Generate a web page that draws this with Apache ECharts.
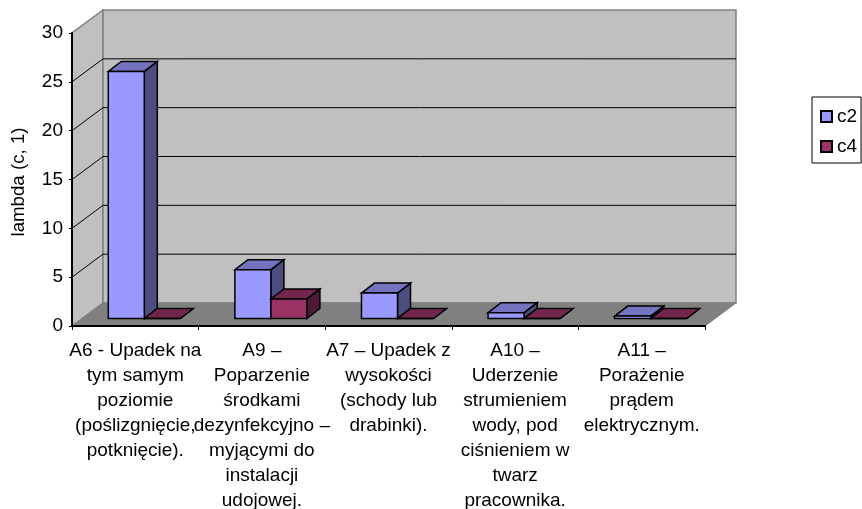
<!DOCTYPE html>
<html>
<head>
<meta charset="utf-8">
<script src="https://cdn.jsdelivr.net/npm/echarts@6/dist/echarts.min.js"></script>
<style>
html,body{margin:0;padding:0;background:#fff}
#chart{width:862px;height:509px}
</style>
</head>
<body>
<div id="chart"></div>
<script>
var categories = [
    'A6 - Upadek na\ntym samym\npoziomie\n(poślizgnięcie,\npotknięcie).',
    'A9 –\nPoparzenie\nśrodkami\ndezynfekcyjno –\nmyjącymi do\ninstalacji\nudojowej.',
    'A7 – Upadek z\nwysokości\n(schody lub\ndrabinki).',
    'A10 –\nUderzenie\nstrumieniem\nwody, pod\nciśnieniem w\ntwarz\npracownika.',
    'A11 –\nPorażenie\nprądem\nelektrycznym.'
];
var c2 = [25.3, 5, 2.6, 0.6, 0.25];
var c4 = [0, 2, 0, 0, 0];
var yTicks = [0, 5, 10, 15, 20, 25, 30];

var wallDx = 31, wallDy = 23;   // full depth of the box
var gapDx = 9, gapDy = 7.5;     // floor in front of the bars
var barDx = 13, barDy = 10;     // depth of one bar
var font = 'Liberation Sans';

function face(points, fill) {
    return {
        type: 'polygon',
        shape: {points: points},
        style: {fill: fill, stroke: '#000', lineWidth: 1.5}
    };
}

function renderWalls(params, api) {
    var o = api.coord([0, 0]);
    var band = api.size([1, 0])[0];
    var x0 = o[0] - band / 2, x1 = x0 + band * 5, y0 = o[1];
    var yTop = api.coord([0, 30])[1];
    var children = [
        {type: 'polygon', shape: {points: [[x0, y0], [x0 + wallDx, y0 - wallDy], [x0 + wallDx, yTop - wallDy], [x0, yTop]]},
            style: {fill: '#c0c0c0', stroke: '#808080', lineWidth: 1.5}},
        {type: 'polygon', shape: {points: [[x0 + wallDx, y0 - wallDy], [x1 + wallDx, y0 - wallDy], [x1 + wallDx, yTop - wallDy], [x0 + wallDx, yTop - wallDy]]},
            style: {fill: '#c0c0c0', stroke: '#808080', lineWidth: 1.5}},
        {type: 'polygon', shape: {points: [[x0, y0], [x1, y0], [x1 + wallDx, y0 - wallDy], [x0 + wallDx, y0 - wallDy]]},
            style: {fill: '#808080', stroke: '#808080', lineWidth: 1}}
    ];
    yTicks.forEach(function (t) {
        if (t === 0 || t === 30) return;
        var y = api.coord([0, t])[1];
        children.push({
            type: 'polyline',
            shape: {points: [[x0, y], [x0 + wallDx, y - wallDy], [x1 + wallDx, y - wallDy]]},
            style: {fill: 'none', stroke: '#000', lineWidth: 1}
        });
    });
    return {type: 'group', children: children};
}

function renderBar(side, colors) {
    return function (params, api) {
        var cat = api.value(0), val = api.value(1);
        var band = api.size([1, 0])[0];
        var w = band * 0.2845;
        var base = api.coord([cat, 0]);
        var top = api.coord([cat, val]);
        var x = base[0] + gapDx + (side === 0 ? -w : 0);
        var yb = base[1] - gapDy, yt = top[1] - gapDy;
        var r = x + w;
        return {
            type: 'group',
            children: [
                face([[r, yb], [r + barDx, yb - barDy], [r + barDx, yt - barDy], [r, yt]], colors[2]),
                face([[x, yt], [r, yt], [r + barDx, yt - barDy], [x + barDx, yt - barDy]], colors[1]),
                face([[x, yb], [r, yb], [r, yt], [x, yt]], colors[0])
            ]
        };
    };
}

var chart = echarts.init(document.getElementById('chart'));
chart.setOption({
    animation: false,
    textStyle: {fontFamily: font},
    grid: {left: 72, top: 33, width: 633, height: 293, outerBoundsMode: 'none'},
    legend: {
        left: 812, top: 97,
        orient: 'vertical',
        icon: 'rect',
        data: ['c2', 'c4'],
        itemWidth: 11, itemHeight: 11, itemGap: 11,
        padding: [10, 4, 7, 8],
        borderColor: '#000', borderWidth: 1,
        textStyle: {fontSize: 19, color: '#000', fontFamily: font},
        selectedMode: false
    },
    xAxis: {
        type: 'category',
        data: categories,
        axisLine: {lineStyle: {color: '#000', width: 2}},
        axisTick: {show: true, length: 4, lineStyle: {color: '#000', width: 1}},
        axisLabel: {interval: 0, fontSize: 19, lineHeight: 25, color: '#000', margin: 12, fontFamily: font, align: 'center', hideOverlap: false},
        z: 5
    },
    yAxis: {
        type: 'value', min: 0, max: 30, interval: 5,
        name: 'lambda (c, 1)',
        nameLocation: 'middle', nameRotate: 90, nameGap: 44,
        nameTextStyle: {fontSize: 18.7, color: '#000', fontFamily: font, padding: [0, 5, 0, 0]},
        axisLine: {show: true, lineStyle: {color: '#000', width: 2}},
        axisTick: {show: true, length: 3, lineStyle: {color: '#000', width: 1}},
        axisLabel: {fontSize: 19, color: '#000', margin: 9, fontFamily: font},
        splitLine: {show: false},
        z: 5
    },
    series: [
        {type: 'custom', silent: true, z: 1, data: [[0, 0]], renderItem: renderWalls, tooltip: {show: false}},
        {name: 'c2', type: 'custom', z: 2, data: c2.map(function (v, i) { return [i, v]; }),
            itemStyle: {color: '#9999ff', borderColor: '#000', borderWidth: 1},
            renderItem: renderBar(0, ['#9999ff', '#7373bf', '#4d4d80'])},
        {name: 'c4', type: 'custom', z: 3, data: c4.map(function (v, i) { return [i, v]; }),
            itemStyle: {color: '#993366', borderColor: '#000', borderWidth: 1},
            renderItem: renderBar(1, ['#993366', '#73264d', '#4d1a33'])}
    ]
});
</script>
</body>
</html>
